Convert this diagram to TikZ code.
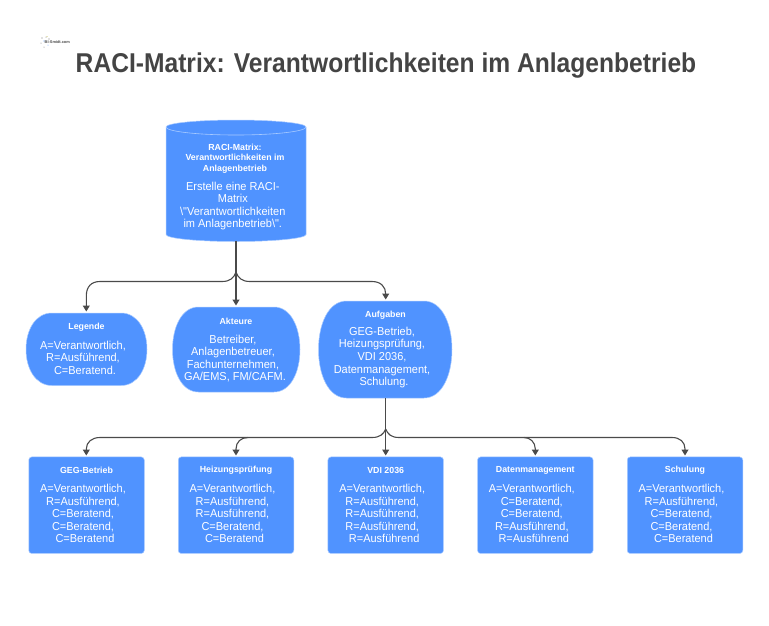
\documentclass[tikz,border=0pt]{standalone}
\usepackage{fontspec}
\setmainfont{Liberation Sans}
\newfontfamily\bodyfam[FakeStretch=0.955]{Liberation Sans}
\newfontfamily\titlefam[FakeStretch=0.905,BoldFont={Liberation Sans Bold}]{Liberation Sans}
\usetikzlibrary{arrows.meta}
\definecolor{fillblue}{HTML}{5093FF}
\definecolor{edgeblue}{HTML}{A9CBFF}
\definecolor{linegrey}{HTML}{4A4A4A}
\definecolor{titlegrey}{HTML}{444444}
\newcommand{\cm}{,\kern4pt}
\tikzset{
  x=1pt,y=-1pt,
  body/.style={font=\bodyfam\fontsize{11.5}{12.55}\selectfont,text=white,align=center,inner sep=0pt},
  head/.style={font=\fontsize{8.8}{10.6}\selectfont\bfseries,text=white,align=center,inner sep=0pt},
  card/.style={fill=fillblue,draw=edgeblue,line width=0.5pt},
  rectcard/.style={card,rounded corners=3pt},
  conn/.style={draw=linegrey,line width=1.1pt},
  arrowconn/.style={conn,-{Triangle[length=6pt,width=7pt]}},
}
\newcommand{\bulged}[5]{% name, left, top, right, bottom
  \path[card] (#2+#1,#3) -- (#4-#1,#3)
    .. controls (#4-#1*0.35,#3) and (#4,#3+#5*0.24) .. (#4,#3+#5*0.5)
    .. controls (#4,#3+#5*0.76) and (#4-#1*0.35,#3+#5) .. (#4-#1,#3+#5)
    -- (#2+#1,#3+#5)
    .. controls (#2+#1*0.35,#3+#5) and (#2,#3+#5*0.76) .. (#2,#3+#5*0.5)
    .. controls (#2,#3+#5*0.24) and (#2+#1*0.35,#3) .. (#2+#1,#3) -- cycle;
}
\begin{document}
\begin{tikzpicture}
\useasboundingbox (0,0) rectangle (769,625);
\fill[white] (0,0) rectangle (769,625);

% logo
\fill[linegrey!70] (42,38) circle (0.6) (46,37) circle (0.5) (41,43) circle (0.5) (49,39) circle (0.6) (44,47) circle (0.5);
\fill[fillblue!80] (44,41) circle (0.6) (48,45) circle (0.5);
\fill[yellow!70!black] (47,36.5) circle (0.5);
\node[inner sep=0pt,anchor=west,font=\fontsize{3.9}{4}\selectfont\bfseries,text=linegrey] (logo) at (44.5,42) {BI-Smidt.com};

\node[font=\titlefam\fontsize{27.2}{30}\selectfont\bfseries,text=titlegrey,inner sep=0pt] (title) at (386,65.5) {RACI-Matrix: Verantwortlichkeiten im Anlagenbetrieb};

% cylinder
\path[card] (166,127) -- (166,234.5) arc[start angle=180,end angle=360,x radius=70,y radius=-7] -- (306,127) arc[start angle=0,end angle=180,x radius=70,y radius=-7] -- cycle;
\draw[edgeblue,line width=0.6pt] (166,127) arc[start angle=180,end angle=360,x radius=70,y radius=-8];
\coordinate (cylb) at (236,241);
\node[head] (cylh) at (235,158.5) {RACI-Matrix:\\Verantwortlichkeiten im\\Anlagenbetrieb};
\node[body] (cylt) at (232.8,206) {Erstelle eine RACI-\\Matrix\\\textbackslash"Verantwortlichkeiten\\im Anlagenbetrieb\textbackslash".};

% second row
\bulged{26}{26}{313}{147}{72.5}
\bulged{26}{172.5}{307}{300}{85}
\bulged{28}{318.5}{301}{452}{97}
\coordinate (aufb) at (385.7,398);
\node[head] (legh) at (86.5,327.5) {Legende};
\node[body] (legb) at (85,357.5) {A=Verantwortlich\cm\\R=Ausführend\cm\\C=Beratend.};
\node[head] (akth) at (236,321) {Akteure};
\node[body] (aktb) at (235,358.5) {Betreiber\cm\\Anlagenbetreuer\cm\\Fachunternehmen\cm\\GA/EMS, FM/CAFM.};
\node[head] (aufh) at (385.5,315) {Aufgaben};
\node[body] (aufb2) at (384,357.5) {GEG-Betrieb\cm\\Heizungsprüfung\cm\\VDI 2036\cm\\Datenmanagement\cm\\Schulung.};

% third row
\foreach \nm/\cx/\hd/\bd in {
  geg/86.5/GEG-Betrieb/{A=Verantwortlich\cm\\R=Ausführend\cm\\C=Beratend\cm\\C=Beratend\cm\\C=Beratend},
  hei/236/Heizungsprüfung/{A=Verantwortlich\cm\\R=Ausführend\cm\\R=Ausführend\cm\\C=Beratend\cm\\C=Beratend},
  vdi/385.7/VDI 2036/{A=Verantwortlich\cm\\R=Ausführend\cm\\R=Ausführend\cm\\R=Ausführend\cm\\R=Ausführend},
  dat/535.3/Datenmanagement/{A=Verantwortlich\cm\\C=Beratend\cm\\C=Beratend\cm\\R=Ausführend\cm\\R=Ausführend},
  sch/685/Schulung/{A=Verantwortlich\cm\\R=Ausführend\cm\\C=Beratend\cm\\C=Beratend\cm\\C=Beratend}}{
  \node[rectcard,minimum width=115.5pt,minimum height=96.5pt,inner sep=0pt] (\nm) at (\cx,505.2) {};
  \node[head] (\nm h) at (\cx,470.7) {\hd};
  \node[body] (\nm b) at (\cx-1.5,513.5) {\bd};
}

% connectors top
\coordinate (split1) at (236,272);
\draw[conn] (cylb) -- (split1);
\draw[arrowconn] (split1) .. controls (234,278) and (230,281.5) .. (222,281.5) -- (100,281.5) .. controls (91,281.5) and (86.3,287) .. (86.3,296) -- (86.3,311.5);
\draw[arrowconn] (split1) -- (236,305.5);
\draw[arrowconn] (split1) .. controls (238,278) and (242,281.5) .. (250,281.5) -- (372,281.5) .. controls (381,281.5) and (385.7,287) .. (385.7,294) -- (385.7,299.5);

% connectors bottom
\coordinate (split2) at (385.7,429);
\draw[conn] (aufb) -- (split2);
\draw[arrowconn] (split2) .. controls (383.7,434) and (380,437.5) .. (372,437.5) -- (100,437.5) .. controls (92,437.5) and (86.3,442) .. (86.3,449) -- (86.3,455.5);
\draw[arrowconn] (248,437.5) .. controls (241,437.5) and (236,442) .. (236,449) -- (236,455.5);
\draw[arrowconn] (split2) -- (385.7,455.5);
\draw[arrowconn] (split2) .. controls (387.7,434) and (391,437.5) .. (399,437.5) -- (672,437.5) .. controls (680,437.5) and (685,442) .. (685,449) -- (685,455.5);
\draw[arrowconn] (524,437.5) .. controls (530,437.5) and (535.3,442) .. (535.3,449) -- (535.3,455.5);
\end{tikzpicture}
\end{document}
